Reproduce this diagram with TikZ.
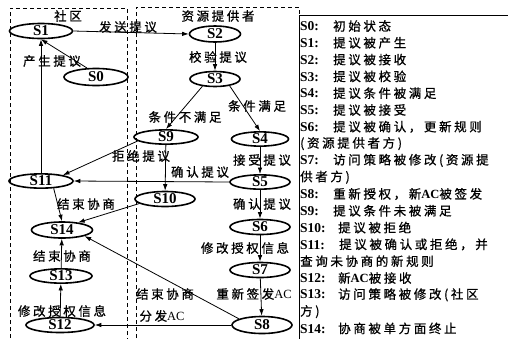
\documentclass[tikz,border=0pt]{standalone}
\usepackage{fontspec}
\setmainfont{Liberation Serif}
\newfontfamily\cjk[LetterSpace=21,FakeBold=0.8]{Noto Sans CJK SC}
\newcommand\lgc{\fontsize{12.5}{13}\selectfont\cjk}
\newcommand\lgs[2]{\makebox[#1][l]{\bfseries #2}}
\usetikzlibrary{shapes.geometric,arrows.meta,calc}
\begin{document}
\begin{tikzpicture}[x=1pt,y=-1pt,
  st/.style={ellipse,draw,line width=1.6pt,inner sep=0pt,font=\fontsize{15}{15}\selectfont\bfseries},
  lab/.style={font=\fontsize{12.5}{13}\selectfont\cjk,inner sep=0pt},
  arr/.style={line width=0.8pt,-{Latex[length=6.5pt,width=4.5pt]}},
  box/.style={line width=0.8pt,dash pattern=on 4pt off 3pt},
  leg/.style={anchor=west,inner sep=0pt,font=\fontsize{13.5}{13.5}\selectfont}
]
\useasboundingbox (0,0) rectangle (508,338);
% swimlanes
\draw[box] (10,345) -- (10,8) -- (127,8) -- (127,345);
\draw[box] (136,345) -- (136,7) -- (299,7) -- (299,15);
\draw[line width=0.8pt] (299,345) -- (299,15) -- (508,15);
\node[lab] (tSQ) at (68,16) {社区};
\node[lab] (tZY) at (218,16) {资源提供者};
% states
\node[st,minimum width=63pt,minimum height=15pt] (S1) at (41,31) {S1};
\node[st,minimum width=64pt,minimum height=17pt] (S0) at (96,77) {S0};
\node[st,minimum width=51pt,minimum height=16pt] (S2) at (215,34) {S2};
\node[st,minimum width=50pt,minimum height=15pt] (S3) at (215,79) {S3};
\node[st,minimum width=64pt,minimum height=14pt] (S9) at (166,137) {S9};
\node[st,minimum width=57pt,minimum height=14pt] (S4) at (260,139) {S4};
\node[st,minimum width=60pt,minimum height=14pt] (S5) at (260,182) {S5};
\node[st,minimum width=60pt,minimum height=15pt] (S10) at (165,199) {S10};
\node[st,minimum width=60pt,minimum height=15pt] (S6) at (260,227) {S6};
\node[st,minimum width=60pt,minimum height=15pt] (S7) at (260,270) {S7};
\node[st,minimum width=60pt,minimum height=17pt] (S8) at (262,325) {S8};
\node[st,minimum width=64pt,minimum height=14pt] (S11) at (41,181) {S11};
\node[st,minimum width=61pt,minimum height=16pt] (S14) at (62,230) {S14};
\node[st,minimum width=62pt,minimum height=14pt] (S13) at (61,276) {S13};
\node[st,minimum width=68pt,minimum height=15pt] (S12) at (60,325) {S12};
% transitions
\draw[arr] (S0.135) -- (S1.south);
\draw[arr] (S11.north) -- (S1.south);
\draw[arr] (S1.east) -- (S2.west);
\draw[arr] (S2) -- (S3);
\draw[arr] (S3.-150) -- (S9.north);
\draw[arr] (S3.-25) -- (S4.north);
\draw[arr] (S4) -- (S5);
\draw[arr] (S9) -- (S10);
\draw[arr] (S9.188) -- (S11.15);
\draw[arr] (S5.west) -- (S11.east);
\draw[arr] (S5) -- (S6);
\draw[arr] (S6) -- (S7);
\draw[arr] (S7) -- (S8);
\draw[arr] (S8.west) -- (S12.east);
\draw[arr] (S8.165) -- (S14.-15);
\draw[arr] (S10.190) -- (S14.25);
\draw[arr] (S11.-30) -- (S14.north);
\draw[arr] (S13) -- (S14);
\draw[arr] (S12) -- (S13);
% transition labels
\node[lab] (l01) at (52,61) {产生提议};
\node[lab] (l12) at (128,27) {发送提议};
\node[lab] (l23) at (218,57) {校验提议};
\node[lab] (l39) at (185,117) {条件不满足};
\node[lab] (l34) at (257,106) {条件满足};
\node[lab] (l45) at (262,160) {接受提议};
\node[lab] (l911) at (141,156) {拒绝提议};
\node[lab] (l511) at (200,172) {确认提议};
\node[lab] (l56) at (262,204) {确认提议};
\node[lab] (l1114) at (86,204) {结束协商};
\node[lab] (l67) at (245,248) {修改授权信息};
\node[lab] (l1314) at (62,256) {结束协商};
\node[lab] (l814) at (165,294) {结束协商};
\node[lab] (l78) at (254,294) {重新签发{\rmfamily AC}};
\node[lab] (l812) at (162,316) {分发{\rmfamily AC}};
\node[lab] (l1213) at (62,311) {修改授权信息};
% legend
\node[leg] (g0) at (300,26) {\lgs{33pt}{S0:}{\lgc 初始状态}};
\node[leg] (g1) at (300,42.8) {\lgs{33pt}{S1:}{\lgc 提议被产生}};
\node[leg] (g2) at (300,59.6) {\lgs{33pt}{S2:}{\lgc 提议被接收}};
\node[leg] (g3) at (300,76.4) {\lgs{33pt}{S3:}{\lgc 提议被校验}};
\node[leg] (g4) at (300,93.2) {\lgs{33pt}{S4:}{\lgc 提议条件被满足}};
\node[leg] (g5) at (300,110) {\lgs{33pt}{S5:}{\lgc 提议被接受}};
\node[leg] (g6) at (300,126.8) {\lgs{33pt}{S6:}{\lgc 提议被确认，更新规则}};
\node[leg] (g6b) at (300,143.6) {{\lgc (资源提供者方)}};
\node[leg] (g7) at (300,160.4) {\lgs{33pt}{S7:}{\lgc 访问策略被修改(资源提}};
\node[leg] (g7b) at (300,177.2) {{\lgc 供者方)}};
\node[leg] (g8) at (300,194) {\lgs{33pt}{S8:}{\lgc 重新授权，新{\rmfamily\bfseries AC}被签发}};
\node[leg] (g9) at (300,210.8) {\lgs{33pt}{S9:}{\lgc 提议条件未被满足}};
\node[leg] (g10) at (300,227.6) {\lgs{38pt}{S10:}{\lgc 提议被拒绝}};
\node[leg] (g11) at (300,244.4) {\lgs{39pt}{S11:}{\lgc 提议被确认或拒绝，并}};
\node[leg] (g11b) at (300,261.2) {{\lgc 查询未协商的新规则}};
\node[leg] (g12) at (300,278) {\lgs{38pt}{S12:}{\lgc 新{\rmfamily\bfseries AC}被接收}};
\node[leg] (g13) at (300,294.8) {\lgs{38pt}{S13:}{\lgc 访问策略被修改(社区}};
\node[leg] (g13b) at (300,311.6) {{\lgc 方)}};
\node[leg] (g14) at (300,328.4) {\lgs{38pt}{S14:}{\lgc 协商被单方面终止}};
\end{tikzpicture}
\end{document}
